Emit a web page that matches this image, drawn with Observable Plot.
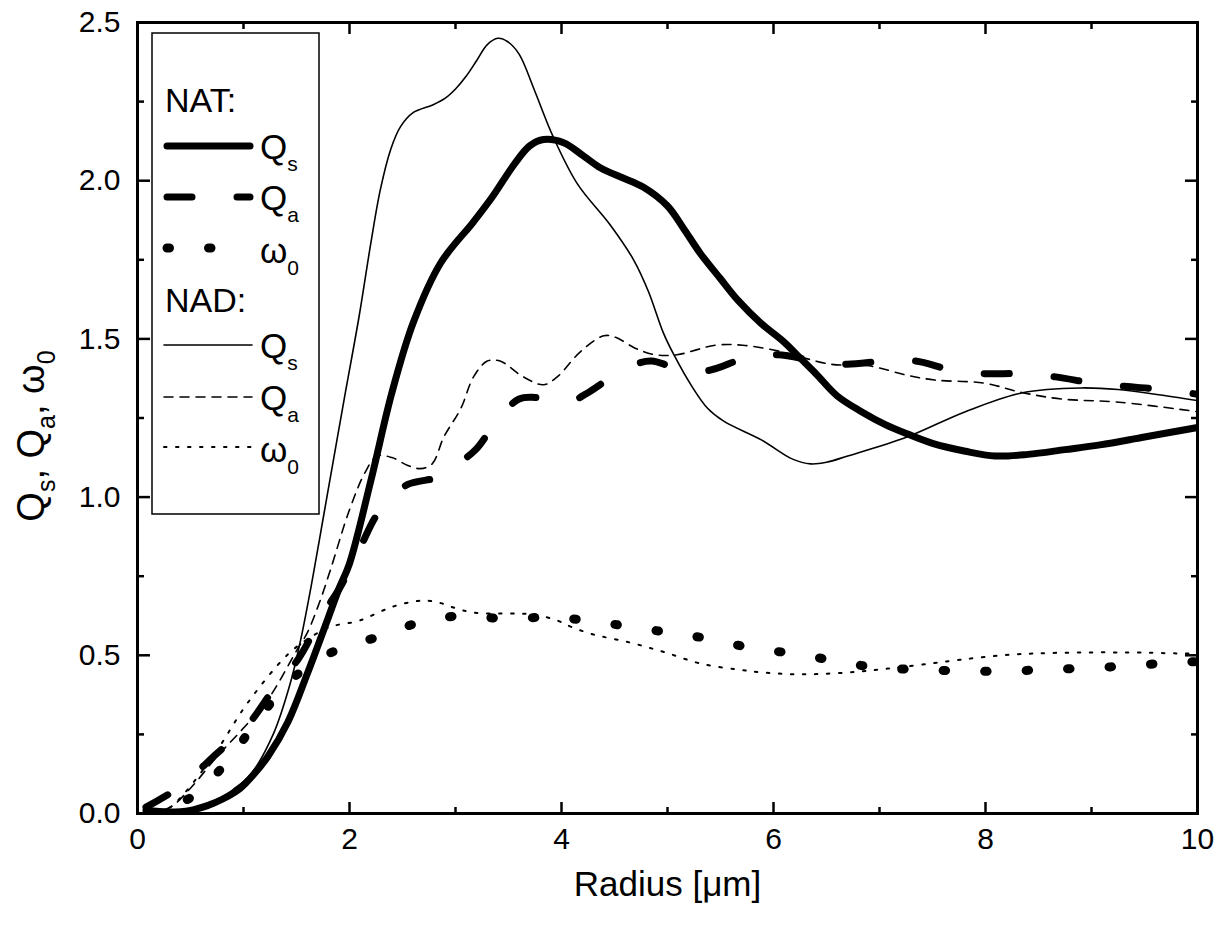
<!DOCTYPE html>
<html><head><meta charset="utf-8">
<script src="https://cdn.jsdelivr.net/npm/d3@7"></script>
<script src="https://cdn.jsdelivr.net/npm/@observablehq/plot@0.6"></script>
<style>
body{margin:0;background:#fff;}
#wrap{position:relative;width:1221px;height:926px;font-family:"Liberation Sans",Arial,sans-serif;}
#wrap svg{display:block;}
#overlay{position:absolute;left:0;top:0;pointer-events:none;}
</style></head><body><div id="wrap"></div>
<script>
// ---- data ----
const xTicks = [0, 2, 4, 6, 8, 10];
const xMinor = [1, 3, 5, 7, 9];
const yTicks = [0, 0.5, 1.0, 1.5, 2.0, 2.5];
const yMinor = [0.25, 0.75, 1.25, 1.75, 2.25];
const xLabel = "Radius [μm]";

const natQsX = [0.08,0.3,0.5,0.66,0.8,0.97,1.1,1.23,1.42,1.6,1.79,1.9,2.0,2.2,2.4,2.6,2.86,3.17,3.35,3.55,3.7,3.83,4.02,4.2,4.37,4.57,4.77,5.0,5.15,5.31,5.5,5.67,5.88,6.1,6.25,6.4,6.6,6.83,7.05,7.26,7.5,7.81,8.09,8.4,8.75,9.08,9.5,10];
const natQsY = [0.01,0.005,0.01,0.025,0.045,0.08,0.125,0.18,0.29,0.44,0.61,0.71,0.79,1.05,1.33,1.55,1.74,1.87,1.95,2.05,2.11,2.13,2.12,2.08,2.04,2.01,1.98,1.92,1.85,1.77,1.69,1.62,1.55,1.49,1.44,1.39,1.32,1.27,1.23,1.2,1.17,1.145,1.13,1.135,1.15,1.165,1.19,1.22];

const natQaX = [0.08,0.38,0.75,1.04,1.3,1.52,1.75,1.92,2.1,2.25,2.4,2.55,2.86,3.0,3.19,3.41,3.6,3.75,4.06,4.25,4.43,4.7,4.85,5.07,5.38,5.74,6.04,6.4,6.69,7.05,7.34,7.7,7.99,8.35,8.66,9.02,9.31,9.67,10];
const natQaY = [0.02,0.08,0.19,0.28,0.4,0.49,0.63,0.72,0.84,0.94,1.0,1.04,1.065,1.1,1.15,1.25,1.31,1.315,1.3,1.33,1.37,1.42,1.43,1.41,1.4,1.44,1.45,1.43,1.42,1.43,1.43,1.4,1.39,1.39,1.38,1.36,1.35,1.34,1.325];

const natW0X = [0.1,0.5,0.86,1.14,1.51,1.9,2.29,2.69,3.08,3.47,3.87,4.25,4.65,5.05,5.43,5.83,6.22,6.61,7.01,7.4,7.79,8.19,8.58,8.97,9.37,9.76,10];
const natW0Y = [0.0,0.05,0.17,0.3,0.44,0.52,0.56,0.607,0.625,0.615,0.62,0.61,0.59,0.57,0.55,0.52,0.505,0.48,0.46,0.455,0.45,0.45,0.455,0.46,0.467,0.477,0.48];

const nadQsX = [0.1,0.3,0.5,0.75,0.9,1.07,1.28,1.44,1.54,1.65,1.75,1.85,1.95,2.09,2.2,2.29,2.39,2.48,2.6,2.79,2.9,3.0,3.1,3.2,3.3,3.4,3.49,3.6,3.74,3.92,4.15,4.46,4.68,4.82,4.96,5.06,5.23,5.38,5.53,5.89,6.18,6.35,6.5,6.7,7.26,7.81,8.35,8.9,9.25,9.6,10];
const nadQsY = [0.0,0.003,0.012,0.04,0.075,0.125,0.25,0.41,0.55,0.74,0.93,1.12,1.31,1.57,1.8,1.97,2.1,2.17,2.215,2.24,2.26,2.29,2.33,2.38,2.43,2.45,2.44,2.4,2.29,2.14,1.99,1.86,1.75,1.65,1.52,1.45,1.35,1.28,1.24,1.18,1.12,1.105,1.11,1.13,1.19,1.27,1.33,1.345,1.34,1.325,1.305];

const nadQaX = [0.1,0.31,0.5,0.75,1.0,1.23,1.51,1.6,1.72,1.82,2.0,2.15,2.26,2.4,2.55,2.67,2.78,2.89,3.05,3.17,3.3,3.42,3.64,3.83,3.96,4.18,4.4,4.51,4.7,4.88,5.09,5.45,5.71,6.0,6.18,6.54,6.9,7.26,7.52,7.99,8.35,8.72,9.26,10];
const nadQaY = [0.0,0.02,0.08,0.18,0.27,0.36,0.52,0.57,0.67,0.77,0.96,1.08,1.13,1.125,1.1,1.09,1.105,1.19,1.28,1.38,1.43,1.43,1.38,1.355,1.38,1.46,1.51,1.505,1.47,1.45,1.45,1.48,1.48,1.465,1.45,1.42,1.415,1.385,1.37,1.36,1.33,1.31,1.3,1.27];

const nadW0X = [0.2,0.33,0.69,1.04,1.41,1.6,1.82,2.07,2.17,2.41,2.61,2.73,2.86,2.98,3.17,3.52,3.74,3.96,4.09,4.3,4.65,4.97,5.31,5.66,5.9,6.2,6.51,6.82,7.08,7.39,7.76,8.24,8.71,9.34,9.81,10];
const nadW0Y = [0.0,0.025,0.17,0.35,0.5,0.55,0.59,0.607,0.62,0.654,0.67,0.673,0.665,0.651,0.635,0.632,0.629,0.61,0.59,0.566,0.54,0.51,0.474,0.455,0.446,0.44,0.442,0.449,0.458,0.47,0.486,0.502,0.508,0.509,0.506,0.505];

// ---- styles (not data) ----
const styles = {
  natQs: {strokeWidth: 7},
  natQa: {strokeWidth: 7, strokeDasharray: "25,45"},
  natW0: {strokeWidth: 9, strokeDasharray: "2.5,39"},
  nadQs: {strokeWidth: 1.6},
  nadQa: {strokeWidth: 1.6, strokeDasharray: "9,7"},
  nadW0: {strokeWidth: 2, strokeDasharray: "2.5,9.5"}
};
const series = [
  ["natQs", natQsX, natQsY], ["natQa", natQaX, natQaY], ["natW0", natW0X, natW0Y],
  ["nadQs", nadQsX, nadQsY], ["nadQa", nadQaX, nadQaY], ["nadW0", nadW0X, nadW0Y]
];

const W = 1221, H = 926;
const lineMarks = series.map(([key, xs, ys]) =>
  Plot.line(d3.zip(xs, ys), {x: d => d[0], y: d => d[1], curve: "catmull-rom",
    stroke: "black", strokeLinecap: "round", strokeLinejoin: "round", clip: true, ...styles[key]}));

const fmtX = d => String(d);
const fmtY = d => d.toFixed(1);

const plot = Plot.plot({
  width: W, height: H,
  marginLeft: 137, marginRight: 24, marginTop: 22, marginBottom: 113,
  style: {fontFamily: '"Liberation Sans", Arial, sans-serif', background: "white", color: "black"},
  x: {domain: [0, 10], label: null},
  y: {domain: [0, 2.5], label: null},
  marks: [
    ...lineMarks,
    Plot.axisX(xTicks, {anchor: "bottom", tickSize: 0, tickPadding: 14, fontSize: 30, tickFormat: fmtX, label: null}),
    Plot.axisY(yTicks, {anchor: "left", tickSize: 0, tickPadding: 17, fontSize: 30, tickFormat: fmtY, label: null}),
    Plot.axisX(xTicks, {anchor: "bottom", tickSize: -11, strokeWidth: 2.5, tickFormat: () => "", label: null}),
    Plot.axisX(xMinor, {anchor: "bottom", tickSize: -6, strokeWidth: 2.5, tickFormat: () => "", label: null}),
    Plot.axisX(xTicks, {anchor: "top", tickSize: -11, strokeWidth: 2.5, tickFormat: () => "", label: null}),
    Plot.axisX(xMinor, {anchor: "top", tickSize: -6, strokeWidth: 2.5, tickFormat: () => "", label: null}),
    Plot.axisY(yTicks, {anchor: "left", tickSize: -13, strokeWidth: 2.5, tickFormat: () => "", label: null}),
    Plot.axisY(yMinor, {anchor: "left", tickSize: -7, strokeWidth: 2.5, tickFormat: () => "", label: null}),
    Plot.axisY(yTicks, {anchor: "right", tickSize: -13, strokeWidth: 2.5, tickFormat: () => "", label: null}),
    Plot.axisY(yMinor, {anchor: "right", tickSize: -7, strokeWidth: 2.5, tickFormat: () => "", label: null}),
    Plot.frame({stroke: "black", strokeWidth: 3}),
    Plot.text([xLabel], {frameAnchor: "bottom", dy: 82, fontSize: 35, fill: "black", lineAnchor: "bottom"})
  ]
});
const wrap = document.getElementById("wrap");
wrap.appendChild(plot);

// ---- overlay: legend and rich y-axis label ----
const ov = d3.select(wrap).append("svg").attr("id", "overlay").attr("width", W).attr("height", H)
  .style("font-family", '"Liberation Sans", Arial, sans-serif');

function sub(text, main, subscript, x, y, fs, sfs, dy) {
  const t = text.append("text").attr("x", x).attr("y", y).attr("font-size", fs).attr("fill", "black");
  t.append("tspan").text(main);
  t.append("tspan").attr("font-size", sfs).attr("dy", dy).text(subscript);
  return t;
}

// y-axis label
const yl = ov.append("text").attr("transform", "translate(44,436) rotate(-90)")
  .attr("text-anchor", "middle").attr("font-size", 38).attr("fill", "black");
const parts = [["Q", "s"], [", Q", "a"], [", ω", "0"]];
parts.forEach(([m, s], i) => {
  yl.append("tspan").attr("dy", i === 0 ? 0 : -11).text(m);
  yl.append("tspan").attr("font-size", 25).attr("dy", 11).text(s);
});

// legend
const lg = ov.append("g");
lg.append("rect").attr("x", 152).attr("y", 33).attr("width", 167).attr("height", 481)
  .attr("fill", "white").attr("stroke", "black").attr("stroke-width", 1.5);
lg.append("text").attr("x", 165).attr("y", 112).attr("font-size", 34).text("NAT:");
lg.append("text").attr("x", 165).attr("y", 312).attr("font-size", 34).text("NAD:");
const entries = [
  ["natQs", "s", 146, 167, 250], ["natQa", "a", 197, 167, 250], ["natW0", "0", 248, 167, 250],
  ["nadQs", "s", 345, 164, 252], ["nadQa", "a", 397, 164, 252], ["nadW0", "0", 447, 164, 252]
];
entries.forEach(([key, s, y, x1, x2]) => {
  const st = styles[key];
  lg.append("line").attr("x1", x1).attr("x2", x2).attr("y1", y).attr("y2", y)
    .attr("stroke", "black").attr("stroke-width", st.strokeWidth)
    .attr("stroke-dasharray", st.strokeDasharray || null).attr("stroke-linecap", "round");
  const isW = key.endsWith("W0");
  sub(lg, isW ? "ω" : "Q", s, 260, y + (isW ? 15 : 13), 35, 21, 12);
});
</script></body></html>
